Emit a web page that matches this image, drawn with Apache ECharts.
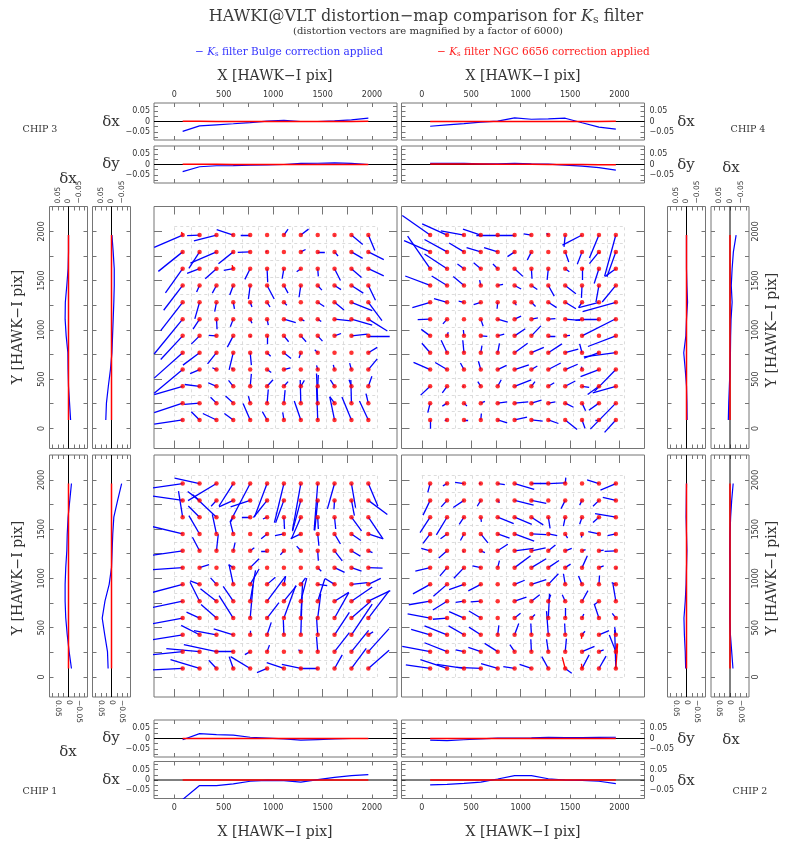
<!DOCTYPE html>
<html>
<head>
<meta charset="utf-8">
<script src="https://cdn.jsdelivr.net/npm/echarts@6/dist/echarts.min.js"></script>
<style>
html,body{margin:0;padding:0;background:#fff}
#chart{width:786px;height:845px}
</style>
</head>
<body>
<div id="chart"></div>
<script>
// ---- sampling grid (HAWK-I pixels): centres of the 12x12 cells, same for X and Y
const gridPos = [85, 256, 427, 597, 768, 939, 1109, 1280, 1451, 1621, 1792, 1963];
// cell boundaries of the faint reference mesh
const cellEdges = [0, 171, 341, 512, 683, 853, 1024, 1195, 1365, 1536, 1707, 1877, 2048];
// axis ticks and labels
const posTicks = [0, 250, 500, 750, 1000, 1250, 1500, 1750, 2000];
const posLabels = [0, 500, 1000, 1500, 2000];
const dTicks = [-0.075, -0.05, -0.025, 0, 0.025, 0.05, 0.075];
const dLabels = [-0.05, 0, 0.05];
// vectors are drawn magnified by this factor
const MAG = 6000;

// ---- Bulge-solution residual vectors, units of 1e-3 pixel.
// Each chip: 12 rows from top (Y=1963) to bottom (Y=85), columns from X=85 to X=1963.
const chip3Dx = [
  [-48,-21,-38,-28,-16,0,7,13,0,1,19,11],
  [-41,-18,-44,-25,-21,-2,0,8,12,6,19,26],
  [-29,-21,-19,-16,-9,1,-3,-7,1,10,17,26],
  [-32,-5,-7,-6,-3,12,7,-3,7,11,20,12],
  [-37,-8,-3,2,3,5,5,0,11,16,35,23],
  [-48,-11,1,-5,3,2,20,6,6,28,35,32],
  [-37,-14,-13,-10,0,0,8,9,8,11,27,36],
  [-48,-28,-15,-7,2,6,12,-3,-5,0,0,15],
  [-48,-16,-7,-3,0,7,11,0,-2,-2,-3,15],
  [-48,-25,-14,-8,2,10,7,6,1,-7,-4,6],
  [-48,-26,-10,-13,-3,2,2,-1,-2,-8,-1,-4],
  [-48,-14,-23,-15,-12,-8,-2,-11,-2,-8,-16,-15]
];
const chip3Dy = [
  [-21,-1,-10,9,0,0,10,10,0,0,-16,-26],
  [-33,-28,-19,-20,-1,1,0,4,0,-7,-11,-13],
  [-41,-8,-17,-3,-18,-23,-17,-5,-13,-20,-15,-12],
  [-42,-11,-13,-16,-23,-23,-13,-20,-8,-7,-13,-25],
  [-48,-28,-16,-11,-8,-8,-5,0,-7,-13,-14,-31],
  [-59,-17,-17,-13,-7,-10,-6,-3,-4,-3,-10,-20],
  [-40,-14,1,-19,-2,-14,-10,-10,-9,4,3,0],
  [-43,-21,-19,-29,-21,-6,-10,-9,5,0,0,9],
  [-40,-7,3,3,0,-5,3,0,7,8,11,18],
  [-14,3,6,10,21,11,8,10,19,11,11,17],
  [-16,-2,10,12,12,23,22,39,50,11,39,16],
  [-7,14,11,11,28,14,13,32,56,39,39,32]
];
const chip4Dx = [
  [-47,-42,-39,-30,-36,-30,-13,-3,-2,-33,-16,-19],
  [-44,-38,-25,-24,-23,-12,-7,0,6,-8,-16,-15],
  [-38,-38,-11,-12,-8,14,1,-2,7,0,-8,-18],
  [-42,-26,-18,-2,9,11,10,10,18,-1,-5,-23],
  [-30,-22,-9,-12,-1,3,7,14,18,-6,-34,-56],
  [-21,-7,0,4,17,11,11,12,25,-11,-27,0],
  [-15,2,-1,11,11,18,16,12,8,57,0,-47],
  [-14,-10,-2,2,3,22,21,23,22,-4,-25,-54],
  [-28,-20,-6,-4,15,24,10,21,21,-1,-31,-36],
  [-16,-8,-2,-5,6,28,6,10,17,12,-19,-39],
  [-4,-8,5,7,16,23,17,12,14,6,-17,-43],
  [0,-4,7,1,16,21,19,17,20,5,-6,-19]
];
const chip4Dy = [
  [33,19,7,10,0,0,2,3,-20,-17,-39,-70],
  [19,21,15,7,7,-8,-14,0,-17,-21,-20,-42],
  [55,25,8,10,8,-13,-17,-19,-5,-19,-25,-13],
  [16,16,15,9,2,-6,-7,-18,-14,-21,-28,-28],
  [-9,6,2,-4,-11,-5,-7,-9,-11,-9,-9,-16],
  [-1,-8,0,-12,-5,5,2,1,-2,-2,0,0],
  [11,6,10,-1,3,12,17,0,1,29,0,-18],
  [16,21,21,12,16,16,9,15,6,15,-9,-7],
  [12,12,11,14,7,8,6,11,9,5,-12,-37],
  [-15,-11,0,8,11,11,8,6,9,-2,-14,-11],
  [-16,-5,-5,3,2,2,5,2,-7,-13,-12,-44],
  [-15,-1,0,11,-5,5,-2,-6,-16,-14,0,-21]
];
const chip1Dx = [
  [-90,-42,-48,-24,-34,-21,-16,-14,-6,-12,7,16],
  [-90,-20,-9,-24,-33,-23,-14,-14,-5,-1,5,32],
  [-7,-19,-40,-5,-14,-7,1,-16,1,2,17,25],
  [-90,-18,-7,-5,0,-10,-15,-17,2,10,16,24],
  [-90,-12,3,3,7,-10,-6,-7,1,13,15,7],
  [-90,16,0,-8,15,0,0,0,6,17,17,24],
  [-90,-16,-10,-7,15,14,3,8,16,-16,27,21],
  [-90,-16,-27,-17,9,31,21,10,12,24,35,37],
  [-90,-22,-26,-24,5,20,20,3,5,24,33,35],
  [-90,-31,-38,-33,0,7,-1,2,-2,25,35,8],
  [-90,-56,-55,-32,-9,4,0,-4,-2,25,29,35],
  [-90,-49,-13,-7,-33,-17,-29,-32,-30,13,25,35]
];
const chip1Dy = [
  [-13,9,-29,-38,-65,-56,-66,-79,-79,-43,-41,-38],
  [13,15,-10,-11,-11,-29,-38,-52,-51,-15,-26,-24],
  [44,19,38,-9,0,-3,-20,-37,-20,-20,-23,-37],
  [22,31,33,20,0,-8,-3,-8,-20,-17,-11,-8],
  [-13,23,28,14,5,0,-7,8,-17,-17,-9,-3],
  [-6,5,0,5,15,0,0,0,-6,-8,-6,-1],
  [-24,6,11,33,26,12,14,11,-2,10,3,10],
  [-19,32,21,25,52,42,26,39,38,15,24,18],
  [-17,10,23,38,57,26,55,60,41,43,29,46],
  [-15,16,7,10,7,21,25,64,29,38,52,5],
  [-9,5,12,0,-5,11,0,3,25,32,36,39],
  [-4,15,14,20,20,-7,10,7,0,23,34,31]
];
const chip2Dx = [
  [-4,-7,-15,-3,12,33,28,28,1,0,-20,-26],
  [-12,-10,-18,-6,3,32,25,0,-7,-4,-10,-22],
  [-17,-18,-8,1,27,29,20,3,-3,-4,-10,-35],
  [-12,-11,-6,12,20,33,25,15,4,-1,-18,-14],
  [-15,-14,-2,7,17,32,24,12,11,6,8,-19],
  [-25,-12,-17,-14,3,27,25,18,9,9,8,1],
  [-29,-23,-25,-21,0,17,25,17,-3,-6,1,-7],
  [-36,-24,-14,-17,0,20,14,4,-5,10,-8,-5],
  [-38,-24,-25,-20,0,10,6,2,0,3,-8,-6],
  [-32,-38,-26,-20,2,7,-1,-3,-1,5,17,-2],
  [-47,-38,-14,-21,-22,-8,-1,-3,2,21,8,-11],
  [-41,-45,-46,-41,-28,-19,-20,-11,11,12,12,-2]
];
const chip2Dy = [
  [-15,-4,2,0,-2,-10,0,1,10,0,6,-11],
  [-25,-11,-12,-10,-4,-8,-5,0,-14,-8,-10,5],
  [-26,-30,-12,-8,-11,-12,-13,-19,-15,-12,-9,6],
  [-16,-8,-11,-15,-7,-12,-1,-3,-7,-6,4,-3],
  [4,-12,0,-3,11,4,5,10,4,2,1,-1],
  [-6,-14,-18,3,12,20,15,12,6,20,3,-2],
  [-16,-20,-9,-11,0,7,8,18,18,14,15,3],
  [-6,-15,-2,-1,0,7,11,11,11,18,-6,30],
  [7,-2,11,12,0,8,6,41,17,7,24,8],
  [9,15,15,13,16,19,19,40,19,6,7,13],
  [9,15,3,7,14,12,21,21,22,9,3,28],
  [6,15,7,2,8,3,7,20,-8,23,21,65]
];
// NGC 6656-solution residuals that are not negligible: [chip, row, col, dx, dy] (1e-3 pixel)
const ngcVectors = [
  [3,0,0,-2,5], [3,2,3,-2,6],
  [4,1,10,0,-3], [4,2,9,3,0],
  [2,11,8,-5,19], [2,11,11,3,42], [2,9,9,-1,-7], [2,11,9,-1,8], [2,10,11,2,14]
];

// ---- mean residual profiles (pixels) along X (index follows gridPos)
const chip3DxVsX_bulge = [-0.048,-0.021,-0.016,-0.011,-0.005,0.002,0.006,0,0,0.003,0.008,0.016];
const chip3DxVsX_ngc   = [0.001,0.001,0,0,0,0,0,0,0,0,0,0.001];
const chip3DyVsX_bulge = [-0.035,-0.011,-0.006,-0.005,-0.003,-0.002,0,0.005,0.006,0.008,0.005,0];
const chip3DyVsX_ngc   = [0.001,0.001,0.001,0,0,0,0,0,0,0,0,0];
const chip4DxVsX_bulge = [-0.023,-0.016,-0.010,-0.003,0.002,0.018,0.011,0.013,0.016,-0.006,-0.027,-0.037];
const chip4DxVsX_ngc   = [0,0,0,0,0,0,0,0,0,0,0,0.001];
const chip4DyVsX_bulge = [0.005,0.005,0.005,0.003,0.003,0.005,0.003,0.002,-0.003,-0.008,-0.015,-0.027];
const chip4DyVsX_ngc   = [0.002,0.002,0.002,0.002,0.001,0.001,0.001,0,0,0,-0.001,-0.001];
const chip1DyVsX_bulge = [-0.006,0.024,0.019,0.016,0.006,0.002,-0.002,-0.008,-0.005,-0.002,0,0];
const chip1DyVsX_ngc   = [0,0,0,0,0,0,0,0,0,0,0,0];
const chip1DxVsX_bulge = [-0.095,-0.027,-0.027,-0.019,-0.006,-0.002,-0.003,-0.010,0.002,0.013,0.021,0.026];
const chip1DxVsX_ngc   = [0,0,0,0,0,0,0,0,0,0,0,0];
const chip2DyVsX_bulge = [-0.008,-0.010,-0.006,-0.002,0.002,0.002,0.003,0.005,0.004,0.004,0.005,0.006];
const chip2DyVsX_ngc   = [0,0,0,0,0,0,0,0,0,0,0,0];
const chip2DxVsX_bulge = [-0.024,-0.021,-0.016,-0.010,0.005,0.021,0.021,0.006,0,-0.002,-0.006,-0.018];
const chip2DxVsX_ngc   = [0,0,0,0,0,0,0,0,0,0,0,0];
// ---- mean residual profiles (pixels) along Y (index follows gridPos)
const chip3DxVsY_bulge = [-0.010,-0.005,0,0.002,0.003,0.011,0.016,0.015,0.008,0.002,0,0];
const chip3DxVsY_ngc   = [0,0,0,0,0,0,0,0,0,0,0,0];
const chip3DyVsY_bulge = [0.027,0.024,0.015,0.005,-0.002,-0.005,-0.008,-0.011,-0.013,-0.013,-0.008,-0.002];
const chip3DyVsY_ngc   = [0,0,0,0,0,0,0,0,0,0,0,0];
const chip4DyVsY_bulge = [-0.003,-0.002,0,0.006,0.013,0.003,0,-0.005,-0.002,0,0,0];
const chip4DyVsY_ngc   = [0,0,0,0,0,0,0,0,0,0,0,0];
const chip4DxVsY_bulge = [0.008,0.006,0.003,0,-0.002,-0.003,-0.005,-0.010,-0.006,-0.010,-0.016,-0.029];
const chip4DxVsY_ngc   = [0,0,0,0,0,0,0,0,0,0,0,0];
const chip1DxVsY_bulge = [-0.014,-0.003,0.006,0.013,0.016,0.016,0.013,0.008,0.006,0.002,-0.006,-0.014];
const chip1DxVsY_ngc   = [0,0,0,0,0,0,0,0,0,0,0,0];
const chip1DyVsY_bulge = [0.016,0.019,0.032,0.044,0.031,0.011,0,-0.003,-0.006,-0.011,-0.029,-0.048];
const chip1DyVsY_ngc   = [0,0,0,0,0,0,0,0,0,0,0,0];
const chip2DyVsY_bulge = [0.004,0.006,0.010,0.012,0.006,0.002,0,-0.002,0,0.002,0.001,0];
const chip2DyVsY_ngc   = [0,0,0,0,0,0,0,0,0,0,0,0];
const chip2DxVsY_bulge = [-0.014,-0.008,-0.002,0.001,0.001,0,0,0.001,0,-0.003,-0.008,-0.015];
const chip2DxVsY_ngc   = [0,0,0,0,0,0,0,0,0,0,0,0];

// ---------------------------------------------------------------------------
const POS_RANGE = [-204.8, 2252.8];   // detector extent padded by 10%
const D_RANGE = [-0.09, 0.09];
const FRAME = '#757575';
const TXT = '#333';
const BLUE = '#0000ff';
const RED = '#ff0000';
const TICK_FONT = 'DejaVu Sans';
const SERIF = 'DejaVu Serif';

const grids = [], xAxes = [], yAxes = [], series = [];

function fmtD(v) {
  if (Math.abs(v) < 1e-12) return '0';
  return (v < 0 ? '\u2212' : '') + Math.abs(v).toFixed(2);
}

function makeAxis(gi, pos, range, ticks, tickLen, label, inverse) {
  const a = {
    type: 'value', gridIndex: gi, position: pos,
    min: range[0], max: range[1], inverse: !!inverse,
    axisLine: { show: false, onZero: false }, splitLine: { show: false },
    axisTick: { show: true, inside: true, length: tickLen, customValues: ticks,
                lineStyle: { color: FRAME, width: 1 } },
    axisLabel: { show: false }
  };
  if (label) {
    a.axisLabel = Object.assign({
      show: true, color: TXT, fontFamily: TICK_FONT, fontSize: 8,
      hideOverlap: false
    }, label);
  }
  return a;
}

// one framed panel with ticks on all four sides
function panel(rect, xr, yr, xt, yt, labels, xInverse) {
  const gi = grids.length;
  grids.push({ left: rect[0], top: rect[1], width: rect[2], height: rect[3],
               show: true, borderColor: FRAME, borderWidth: 1, containLabel: false,
               outerBoundsMode: 'none' });
  const xi = xAxes.length, yi = yAxes.length;
  xAxes.push(makeAxis(gi, 'bottom', xr, xt[0], xt[1], labels.bottom, xInverse));
  xAxes.push(makeAxis(gi, 'top', xr, xt[0], xt[1], labels.top, xInverse));
  yAxes.push(makeAxis(gi, 'left', yr, yt[0], yt[1], labels.left));
  yAxes.push(makeAxis(gi, 'right', yr, yt[0], yt[1], labels.right));
  return { x: xi, y: yi };
}

const posLabelCfg = (extra) => Object.assign({ customValues: posLabels, formatter: v => String(v) }, extra);
const dLabelCfg = (extra) => Object.assign({ customValues: dLabels, formatter: fmtD }, extra);

function mainPanel(rect, dxRows, dyRows, chipId) {
  const ax = panel(rect, POS_RANGE, POS_RANGE, [posTicks, 8], [posTicks, 8], {});
  const common = { coordinateSystem: 'cartesian2d', xAxisIndex: ax.x, yAxisIndex: ax.y,
                   silent: true, animation: false, clip: true };
  const lo = cellEdges[0], hi = cellEdges[cellEdges.length - 1];
  const mesh = [];
  cellEdges.forEach(e => {
    mesh.push({ coords: [[e, lo], [e, hi]] });
    mesh.push({ coords: [[lo, e], [hi, e]] });
  });
  series.push(Object.assign({ type: 'lines', data: mesh, z: 1,
    lineStyle: { color: '#d4d4d4', width: 0.8, type: [3, 3], opacity: 1 } }, common));
  const scale = MAG * 1e-3;
  const bulge = [];
  const n = gridPos.length;
  for (let r = 0; r < n; r++) {
    for (let c = 0; c < n; c++) {
      const x = gridPos[c], y = gridPos[n - 1 - r];
      bulge.push({ coords: [[x, y], [x + dxRows[r][c] * scale, y + dyRows[r][c] * scale]] });
    }
  }
  series.push(Object.assign({ type: 'lines', data: bulge, z: 2,
    lineStyle: { color: BLUE, width: 1.3, opacity: 1 } }, common));
  const ngc = ngcVectors.filter(v => v[0] === chipId).map(v => {
    const x = gridPos[v[2]], y = gridPos[n - 1 - v[1]];
    return { coords: [[x, y], [x + v[3] * scale, y + v[4] * scale]] };
  });
  series.push(Object.assign({ type: 'lines', data: ngc, z: 3,
    lineStyle: { color: RED, width: 1.3, opacity: 1 } }, common));
  const dots = [];
  gridPos.forEach(y => gridPos.forEach(x => dots.push([x, y])));
  series.push({ type: 'scatter', xAxisIndex: ax.x, yAxisIndex: ax.y, data: dots,
    symbol: 'circle', symbolSize: 4.5, itemStyle: { color: RED }, z: 4,
    silent: true, animation: false });
}

function hProfile(rect, bulge, ngc, labels) {
  const ax = panel(rect, POS_RANGE, D_RANGE, [posTicks, 4], [dTicks, 4], labels);
  const base = { type: 'line', xAxisIndex: ax.x, yAxisIndex: ax.y, showSymbol: false,
                 symbol: 'none', silent: true, animation: false, clip: true };
  series.push(Object.assign({}, base, { data: [[POS_RANGE[0], 0], [POS_RANGE[1], 0]],
    lineStyle: { color: '#000', width: 1 }, z: 1 }));
  series.push(Object.assign({}, base, { data: gridPos.map((x, i) => [x, bulge[i]]),
    lineStyle: { color: BLUE, width: 1.2 }, z: 2 }));
  series.push(Object.assign({}, base, { data: gridPos.map((x, i) => [x, ngc[i]]),
    lineStyle: { color: RED, width: 1.5 }, z: 3 }));
}

function vProfile(rect, bulge, ngc, labels) {
  const ax = panel(rect, D_RANGE, POS_RANGE, [dTicks, 4], [posTicks, 4], labels, true);
  const base = { type: 'line', xAxisIndex: ax.x, yAxisIndex: ax.y, showSymbol: false,
                 symbol: 'none', silent: true, animation: false, clip: true };
  series.push(Object.assign({}, base, { data: [[0, POS_RANGE[0]], [0, POS_RANGE[1]]],
    lineStyle: { color: '#000', width: 1 }, z: 1 }));
  series.push(Object.assign({}, base, { data: gridPos.map((y, i) => [bulge[i], y]),
    lineStyle: { color: BLUE, width: 1.2 }, z: 2 }));
  series.push(Object.assign({}, base, { data: gridPos.map((y, i) => [ngc[i], y]),
    lineStyle: { color: RED, width: 1.5 }, z: 3 }));
}

// ---- layout (pixels)
const LEFT_X = 154, RIGHT_X = 401.5, MAIN_W = 243;
const TOP_Y = 206.5, BOT_Y = 455, MAIN_H = 242;
const PROF_H = 37, PROF_W = 38;

// main vector maps
mainPanel([LEFT_X, TOP_Y, MAIN_W, MAIN_H], chip3Dx, chip3Dy, 3);
mainPanel([RIGHT_X, TOP_Y, MAIN_W, MAIN_H], chip4Dx, chip4Dy, 4);
mainPanel([LEFT_X, BOT_Y, MAIN_W, MAIN_H], chip1Dx, chip1Dy, 1);
mainPanel([RIGHT_X, BOT_Y, MAIN_W, MAIN_H], chip2Dx, chip2Dy, 2);

// profiles along X, above the upper chips
hProfile([LEFT_X, 103, MAIN_W, PROF_H], chip3DxVsX_bulge, chip3DxVsX_ngc,
  { top: posLabelCfg({ margin: 4 }), left: dLabelCfg({ margin: 4 }) });
hProfile([LEFT_X, 146, MAIN_W, PROF_H], chip3DyVsX_bulge, chip3DyVsX_ngc,
  { left: dLabelCfg({ margin: 4 }) });
hProfile([RIGHT_X, 103, MAIN_W, PROF_H], chip4DxVsX_bulge, chip4DxVsX_ngc,
  { top: posLabelCfg({ margin: 4 }), right: dLabelCfg({ margin: 5 }) });
hProfile([RIGHT_X, 146, MAIN_W, PROF_H], chip4DyVsX_bulge, chip4DyVsX_ngc,
  { right: dLabelCfg({ margin: 5 }) });
// profiles along X, below the lower chips
hProfile([LEFT_X, 720, MAIN_W, PROF_H], chip1DyVsX_bulge, chip1DyVsX_ngc,
  { left: dLabelCfg({ margin: 4 }) });
hProfile([LEFT_X, 761.5, MAIN_W, PROF_H], chip1DxVsX_bulge, chip1DxVsX_ngc,
  { bottom: posLabelCfg({ margin: 5 }), left: dLabelCfg({ margin: 4 }) });
hProfile([RIGHT_X, 720, MAIN_W, PROF_H], chip2DyVsX_bulge, chip2DyVsX_ngc,
  { right: dLabelCfg({ margin: 5 }) });
hProfile([RIGHT_X, 761.5, MAIN_W, PROF_H], chip2DxVsX_bulge, chip2DxVsX_ngc,
  { bottom: posLabelCfg({ margin: 5 }), right: dLabelCfg({ margin: 5 }) });

// profiles along Y, beside the chips
const vTop = (m) => dLabelCfg({ rotate: -90, margin: m, fontSize: 7.5 });
const yLab = (m) => posLabelCfg({ rotate: 90, margin: m });
vProfile([49.5, TOP_Y, PROF_W, MAIN_H], chip3DxVsY_bulge, chip3DxVsY_ngc,
  { left: yLab(4), top: vTop(3) });
vProfile([92.5, TOP_Y, PROF_W, MAIN_H], chip3DyVsY_bulge, chip3DyVsY_ngc,
  { top: vTop(3) });
vProfile([667.5, TOP_Y, PROF_W, MAIN_H], chip4DyVsY_bulge, chip4DyVsY_ngc,
  { top: vTop(3) });
vProfile([711, TOP_Y, PROF_W, MAIN_H], chip4DxVsY_bulge, chip4DxVsY_ngc,
  { right: yLab(3), top: vTop(3) });
vProfile([49.5, BOT_Y, PROF_W, MAIN_H], chip1DxVsY_bulge, chip1DxVsY_ngc,
  { left: yLab(4), bottom: vTop(3) });
vProfile([92.5, BOT_Y, PROF_W, MAIN_H], chip1DyVsY_bulge, chip1DyVsY_ngc,
  { bottom: vTop(3) });
vProfile([667.5, BOT_Y, PROF_W, MAIN_H], chip2DyVsY_bulge, chip2DyVsY_ngc,
  { bottom: vTop(3) });
vProfile([711, BOT_Y, PROF_W, MAIN_H], chip2DxVsY_bulge, chip2DxVsY_ngc,
  { right: yLab(3), bottom: vTop(3) });

// ---- free text
function txt(x, y, text, size, opts) {
  return Object.assign({ type: 'text', x: x, y: y, silent: true,
    style: { text: text, fill: TXT, font: size + 'px "' + SERIF + '"',
             align: 'center', verticalAlign: 'middle' } }, opts || {});
}
function rot(x, y, text, size) {
  const t = txt(x, y, text, size);
  t.rotation = Math.PI / 2;
  return t;
}
const kRich = (color, size) => ({
  n: { fill: color, font: size + 'px "' + SERIF + '"' },
  k: { fill: color, font: 'italic ' + size + 'px "' + SERIF + '"' },
  s: { fill: color, font: Math.round(size * 0.7) + 'px "' + SERIF + '"', padding: [Math.round(size * 0.45), 0, 0, 0] }
});
const graphics = [
  { type: 'text', x: 426, y: 17, silent: true,
    style: { text: '{n|HAWKI@VLT distortion\u2212map comparison for }{k|K}{s|s}{n| filter}',
             rich: kRich('#3a3a3a', 16), align: 'center', verticalAlign: 'middle' } },
  txt(428, 31, '(distortion vectors are magnified by a factor of 6000)', 10, {}),
  { type: 'text', x: 195, y: 52, silent: true,
    style: { text: '{n|\u2212 }{k|K}{s|s}{n| filter Bulge correction applied}',
             rich: kRich('#3333ff', 10.5), align: 'left', verticalAlign: 'middle' } },
  { type: 'text', x: 437, y: 52, silent: true,
    style: { text: '{n|\u2212 }{k|K}{s|s}{n| filter NGC 6656 correction applied}',
             rich: kRich('#ff2020', 10.5), align: 'left', verticalAlign: 'middle' } },
  txt(275, 76, 'X [HAWK\u2212I pix]', 14),
  txt(523, 76, 'X [HAWK\u2212I pix]', 14),
  txt(275, 832, 'X [HAWK\u2212I pix]', 14),
  txt(523, 832, 'X [HAWK\u2212I pix]', 14),
  rot(18, 327, 'Y [HAWK\u2212I pix]', 14),
  rot(18, 578, 'Y [HAWK\u2212I pix]', 14),
  rot(772, 330, 'Y [HAWK\u2212I pix]', 14),
  rot(772, 578, 'Y [HAWK\u2212I pix]', 14),
  txt(40, 130, 'CHIP 3', 9.5),
  txt(748, 130, 'CHIP 4', 9.5),
  txt(40, 792, 'CHIP 1', 9.5),
  txt(750, 792, 'CHIP 2', 9.5),
  txt(111, 122, '\u03b4x', 15),
  txt(111, 164, '\u03b4y', 15),
  txt(68, 179, '\u03b4x', 15),
  txt(686, 122, '\u03b4x', 15),
  txt(686, 165, '\u03b4y', 15),
  txt(731, 168, '\u03b4x', 15),
  txt(111, 738, '\u03b4y', 15),
  txt(111, 780, '\u03b4x', 15),
  txt(68, 752, '\u03b4x', 15),
  txt(686, 739, '\u03b4y', 15),
  txt(686, 781, '\u03b4x', 15),
  txt(731, 740, '\u03b4x', 15)
];

const chart = echarts.init(document.getElementById('chart'), null, { renderer: 'canvas' });
chart.setOption({
  backgroundColor: '#ffffff',
  animation: false,
  grid: grids,
  xAxis: xAxes,
  yAxis: yAxes,
  series: series,
  graphic: graphics
});
</script>
</body>
</html>
